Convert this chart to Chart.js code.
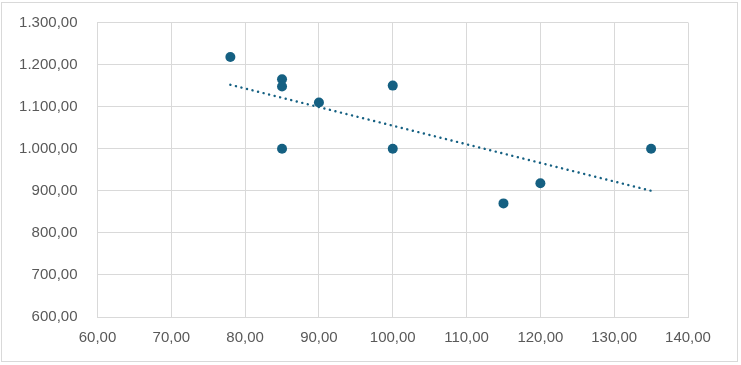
<!DOCTYPE html>
<html>
<head>
<meta charset="utf-8">
<script src="https://cdn.jsdelivr.net/npm/chart.js@4.4.1/dist/chart.umd.min.js"></script>
<style>
  html, body { margin: 0; padding: 0; background: #ffffff; }
  #wrap { position: absolute; left: 0; top: 0; width: 741px; height: 365px; }
  #frame { position: absolute; left: 1px; top: 2px; width: 735px; height: 358px; border: 1px solid #d9d9d9; pointer-events: none; }
  canvas { position: absolute; left: 0; top: 0; }
</style>
</head>
<body>
<div id="wrap">
  <canvas id="c" width="741" height="365"></canvas>
  <div id="frame"></div>
</div>
<script>
// Data
const xValues = [78, 85, 85, 85, 90, 100, 100, 115, 120, 135];
const yValues = [1218, 1165, 1148, 1000, 1110, 1150, 1000, 870, 918, 1000];
// Linear trendline endpoints
const trendX = [78, 135];
const trendY = [1152, 900];
// Axis ticks
const xTickValues = [60, 70, 80, 90, 100, 110, 120, 130, 140];
const xTickLabels = ["60,00", "70,00", "80,00", "90,00", "100,00", "110,00", "120,00", "130,00", "140,00"];
const yTickValues = [600, 700, 800, 900, 1000, 1100, 1200, 1300];
const yTickLabels = ["600,00", "700,00", "800,00", "900,00", "1.000,00", "1.100,00", "1.200,00", "1.300,00"];

const pointData = xValues.map((x, i) => ({ x: x, y: yValues[i] }));
const trendData = trendX.map((x, i) => ({ x: x, y: trendY[i] }));

const markerColor = '#156082';
const gridColor = '#d9d9d9';
const textColor = '#595959';
const font = { family: "'Liberation Sans', Arial, sans-serif", size: 15 };

function labelFor(values, labels, v) {
  const i = values.indexOf(v);
  return i >= 0 ? labels[i] : '';
}

// Pin the plot area to the reference's position
const plotBox = { left: 97.5, top: 22.5, right: 688, bottom: 317 };

new Chart(document.getElementById('c'), {
  type: 'scatter',
  data: {
    datasets: [
      {
        label: 'Data',
        data: pointData,
        backgroundColor: markerColor,
        borderColor: markerColor,
        pointRadius: 5,
        pointHoverRadius: 5,
        pointBorderWidth: 0,
        showLine: false,
        order: 1
      },
      {
        label: 'Trend',
        data: trendData,
        showLine: true,
        borderColor: markerColor,
        borderWidth: 2.4,
        borderDash: [0.1, 5.6],
        borderCapStyle: 'round',
        pointRadius: 0,
        fill: false,
        order: 0
      }
    ]
  },
  options: {
    responsive: false,
    animation: false,
    events: [],
    layout: { padding: { left: 0, top: 0, right: 0, bottom: 0 } },
    plugins: { legend: { display: false }, tooltip: { enabled: false } },
    scales: {
      x: {
        type: 'linear',
        min: 60, max: 140,
        afterBuildTicks: (s) => { s.ticks = xTickValues.map(v => ({ value: v })); },
        afterFit: (s) => { s.height = 365 - plotBox.bottom; s.paddingLeft = 0; s.paddingRight = 0; },
        grid: { color: gridColor, lineWidth: 1, drawTicks: false },
        border: { color: gridColor, width: 1 },
        ticks: {
          color: textColor, font: font, padding: 12, maxRotation: 0, autoSkip: false,
          callback: (v) => labelFor(xTickValues, xTickLabels, v)
        }
      },
      y: {
        type: 'linear',
        min: 600, max: 1300,
        afterBuildTicks: (s) => { s.ticks = yTickValues.map(v => ({ value: v })); },
        afterFit: (s) => { s.width = plotBox.left; s.paddingTop = 0; s.paddingBottom = 0; },
        grid: { color: gridColor, lineWidth: 1, drawTicks: false },
        border: { color: gridColor, width: 1 },
        ticks: {
          color: textColor, font: font, padding: 20, autoSkip: false,
          callback: (v) => labelFor(yTickValues, yTickLabels, v)
        }
      }
    }
  },
  plugins: [{
    id: 'pinArea',
    afterLayout(chart) {
      const xs = chart.scales.x, ys = chart.scales.y;
      const a = chart.chartArea;
      a.left = plotBox.left; a.right = plotBox.right; a.top = plotBox.top; a.bottom = plotBox.bottom;
      a.width = a.right - a.left; a.height = a.bottom - a.top;
      xs.left = plotBox.left; xs.right = plotBox.right; xs.width = xs.right - xs.left;
      xs.top = plotBox.bottom; xs.bottom = 365; xs.height = xs.bottom - xs.top;
      ys.top = plotBox.top; ys.bottom = plotBox.bottom; ys.height = ys.bottom - ys.top;
      ys.left = 0; ys.right = plotBox.left; ys.width = plotBox.left;
      xs.configure(); ys.configure();
      xs._gridLineItems = null; ys._gridLineItems = null;
      xs._labelItems = null; ys._labelItems = null;
    }
  }]
});
</script>
</body>
</html>
